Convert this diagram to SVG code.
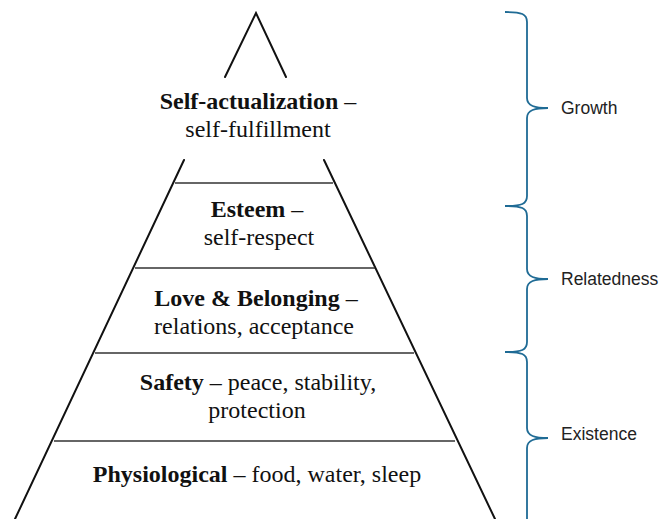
<svg xmlns="http://www.w3.org/2000/svg" width="665" height="519" viewBox="0 0 665 519">
<style>
.side{stroke:#111;stroke-width:2;fill:none;stroke-linecap:round}
.tier{stroke:#333;stroke-width:1.6;fill:none}
.t{font-family:"Liberation Serif","Times New Roman",serif;font-size:24px;fill:#111;text-anchor:middle}
.b{font-weight:bold}
.brace{stroke:#1f6b95;stroke-width:1.8;fill:none}
.lbl{font-family:"Liberation Sans",Arial,sans-serif;font-size:17.5px;fill:#222}
</style>
<rect width="665" height="519" fill="#fff"/>
<g id="pyramid">
<path class="side" d="M225,77 L256,13 L286,77"/>
<path class="side" d="M184,160 L15,519"/>
<path class="side" d="M324,160 L495,519"/>
<line class="tier" x1="175" y1="183" x2="333" y2="183"/>
<line class="tier" x1="135" y1="268" x2="375" y2="268"/>
<line class="tier" x1="95" y1="353" x2="414" y2="353"/>
<line class="tier" x1="54" y1="441" x2="455" y2="441"/>
</g>
<g id="self-actualization">
<text class="t" x="258" y="109"><tspan class="b">Self-actualization</tspan> –</text>
<text class="t" x="258" y="137">self-fulfillment</text>
</g>
<g id="esteem">
<text class="t" x="257" y="217"><tspan class="b">Esteem</tspan> –</text>
<text class="t" x="259" y="245">self-respect</text>
</g>
<g id="love-belonging">
<text class="t" x="256" y="306"><tspan class="b">Love &amp; Belonging</tspan> –</text>
<text class="t" x="254" y="334">relations, acceptance</text>
</g>
<g id="safety">
<text class="t" x="258" y="390"><tspan class="b">Safety</tspan> – peace, stability,</text>
<text class="t" x="257" y="418">protection</text>
</g>
<g id="physiological">
<text class="t" x="257" y="482"><tspan class="b">Physiological</tspan> – food, water, sleep</text>
</g>
<g id="connectors">
<path class="brace" d="M505,12 C522,12 527,14 527,22 L527,98 C527,106 535,108 548,108 C535,108 527,110 527,118 L527,196 C527,204 522,206 505,206"/>
<path class="brace" d="M505,206 C522,206 527,208 527,216 L527,269 C527,277 535,279 548,279 C535,279 527,281 527,289 L527,342 C527,350 522,352 505,352"/>
<path class="brace" d="M505,352 C522,352 527,354 527,362 L527,428 C527,436 535,438 548,438 C535,438 527,440 527,448 L527,530"/>
</g>
<g id="growth"><text class="lbl" x="561" y="114">Growth</text></g>
<g id="relatedness"><text class="lbl" x="561" y="285">Relatedness</text></g>
<g id="existence"><text class="lbl" x="561" y="440">Existence</text></g>
</svg>
